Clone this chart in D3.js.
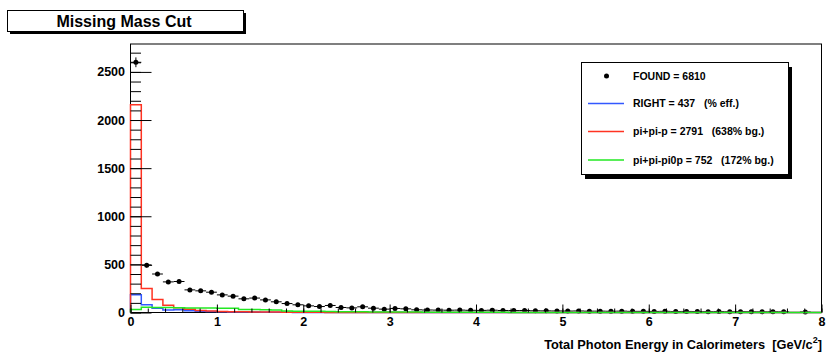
<!DOCTYPE html>
<html>
<head>
<meta charset="utf-8">
<script src="https://cdnjs.cloudflare.com/ajax/libs/d3/7.8.5/d3.min.js"></script>
<style>
body { margin: 0; background: #fff; }
svg text { font-family: "Liberation Sans", Arial, Helvetica, sans-serif; font-weight: bold; white-space: pre; }
.axis path.domain { display: none; }
</style>
</head>
<body>
<script>
var w = 826;
var h = 354;

//Plot frame edges
var plotLeft = 130.5, plotRight = 821.5, plotTop = 44, plotBottom = 312.5;

//64 bins of 0.125 GeV from 0 to 8
var binWidth = 0.125;

//FOUND (points with errors)
var found = [2600, 490, 400, 318, 322, 235, 225, 211, 183, 170, 142, 150, 131, 111, 93, 80,
    69, 62, 73, 52, 48, 59, 45, 35, 42, 38, 28, 26, 25, 24, 25, 23,
    22, 24, 21, 20, 21, 18, 17, 16, 15, 16, 14, 14, 13, 14, 12, 12,
    11, 12, 10, 11, 10, 9, 10, 8, 9, 8, 7, 8, 7, 0, 6, 0];

//RIGHT (blue)
var rightHist = [185, 80, 45, 25, 28, 18, 12, 10, 8, 6, 5, 4, 3, 2, 2, 1,
    1, 1, 1, 0, 0, 0, 0, 0, 0, 0, 0, 0, 0, 0, 0, 0,
    0, 0, 0, 0, 0, 0, 0, 0, 0, 0, 0, 0, 0, 0, 0, 0,
    0, 0, 0, 0, 0, 0, 0, 0, 0, 0, 0, 0, 0, 0, 0, 0];

//pi+pi-p (red)
var pipip = [2160, 250, 135, 75, 50, 35, 22, 15, 10, 8, 7, 5, 4, 4, 3, 3,
    2, 2, 1, 0, 0, 0, 0, 0, 0, 0, 0, 0, 0, 0, 0, 0,
    0, 0, 0, 0, 0, 0, 0, 0, 0, 0, 0, 0, 0, 0, 0, 0,
    0, 0, 0, 0, 0, 0, 0, 0, 0, 0, 0, 0, 0, 0, 0, 0];

//pi+pi-pi0p (green)
var pipipi0p = [32, 55, 53, 52, 50, 48, 48, 46, 45, 44, 32, 30, 28, 26, 16, 14,
    13, 12, 10, 9, 8, 7, 6, 5, 5, 4, 4, 3, 3, 3, 2, 2,
    2, 2, 2, 1, 1, 1, 1, 1, 1, 1, 1, 1, 1, 1, 1, 1,
    1, 1, 1, 1, 1, 0, 0, 0, 0, 0, 0, 0, 0, 0, 0, 0];

var xTicks = [0, 1, 2, 3, 4, 5, 6, 7, 8];
var yTicks = [0, 500, 1000, 1500, 2000, 2500];

var legendLabels = ["FOUND = 6810", "RIGHT = 437   (% eff.)",
    "pi+pi-p = 2791   (638% bg.)", "pi+pi-pi0p = 752   (172% bg.)"];

var blue = "#3358ff", red = "#ff3322", green = "#22e822";

var xScale = d3.scaleLinear().domain([0, 8]).range([plotLeft, plotRight]);
var yScale = d3.scaleLinear().domain([0, 2790]).range([plotBottom, plotTop]);

var svg = d3.select("body")
    .append("svg")
    .attr("width", w)
    .attr("height", h);

//Title box with shadow
svg.append("rect").attr("x", 10).attr("y", 13).attr("width", 236).attr("height", 21).attr("fill", "#000");
svg.append("rect").attr("x", 7.5).attr("y", 10.5).attr("width", 236).attr("height", 21)
    .attr("fill", "#fff").attr("stroke", "#000").attr("stroke-width", 1);
svg.append("text").attr("x", 124).attr("y", 26.5)
    .attr("text-anchor", "middle").attr("font-size", "16px")
    .text("Missing Mass Cut");

//Frame
svg.append("rect")
    .attr("x", plotLeft).attr("y", plotTop)
    .attr("width", plotRight - plotLeft).attr("height", plotBottom - plotTop)
    .attr("fill", "none").attr("stroke", "#000").attr("stroke-width", 1);

//Step path for a histogram
function stepPoints(vals) {
    var pts = [[0, 0]];
    vals.forEach(function (v, i) {
        pts.push([i * binWidth, v]);
    });
    pts.push([8, 0]);
    return pts;
}

var step = d3.line()
    .x(function (d) { return xScale(d[0]); })
    .y(function (d) { return yScale(d[1]); })
    .curve(d3.curveStepAfter);

//FOUND error bars and markers
var pts = found.map(function (v, i) { return { i: i, v: v }; })
    .filter(function (d) { return d.v > 0; });

var eg = svg.append("g").attr("stroke", "#000").attr("stroke-width", 1);
eg.selectAll("line.ex")
    .data(pts)
    .enter()
    .append("line")
    .attr("class", "ex")
    .attr("x1", function (d) { return xScale(d.i * binWidth); })
    .attr("x2", function (d) { return xScale((d.i + 1) * binWidth); })
    .attr("y1", function (d) { return yScale(d.v); })
    .attr("y2", function (d) { return yScale(d.v); });
eg.selectAll("line.ey")
    .data(pts)
    .enter()
    .append("line")
    .attr("class", "ey")
    .attr("x1", function (d) { return xScale((d.i + 0.5) * binWidth); })
    .attr("x2", function (d) { return xScale((d.i + 0.5) * binWidth); })
    .attr("y1", function (d) { return yScale(d.v - Math.sqrt(d.v)); })
    .attr("y2", function (d) { return yScale(d.v + Math.sqrt(d.v)); });

svg.selectAll("circle.found")
    .data(pts)
    .enter()
    .append("circle")
    .attr("class", "found")
    .attr("cx", function (d) { return xScale((d.i + 0.5) * binWidth); })
    .attr("cy", function (d) { return yScale(d.v); })
    .attr("r", 2.5)
    .attr("fill", "#000");

//Histograms
[[rightHist, blue], [pipip, red], [pipipi0p, green]].forEach(function (hd) {
    svg.append("path")
        .attr("d", step(stepPoints(hd[0])))
        .attr("fill", "none")
        .attr("stroke", hd[1])
        .attr("stroke-width", 1.5);
});

//X axis: major and minor ticks pointing up
svg.append("g")
    .attr("class", "axis")
    .attr("transform", "translate(0," + plotBottom + ")")
    .call(d3.axisBottom(xScale).tickValues(d3.range(0, 8.001, 0.2)).tickSize(-4).tickFormat(""));
var xaxis = svg.append("g")
    .attr("class", "axis")
    .attr("transform", "translate(0," + plotBottom + ")")
    .call(d3.axisBottom(xScale).tickValues(xTicks).tickSize(-8).tickPadding(5).tickFormat(d3.format("d")));
xaxis.selectAll("text").attr("font-size", "12.5px").attr("fill", "#000");

//Y axis: major and minor ticks pointing right
svg.append("g")
    .attr("class", "axis")
    .attr("transform", "translate(" + plotLeft + ",0)")
    .call(d3.axisLeft(yScale).tickValues(d3.range(0, 2701, 100)).tickSize(-10.5).tickFormat(""));
var yaxis = svg.append("g")
    .attr("class", "axis")
    .attr("transform", "translate(" + plotLeft + ",0)")
    .call(d3.axisLeft(yScale).tickValues(yTicks).tickSize(-21).tickPadding(5.5).tickFormat(d3.format("d")));
yaxis.selectAll("text").attr("font-size", "12.5px").attr("fill", "#000");

svg.selectAll(".axis line").attr("stroke", "#000");

//X title
var xt = svg.append("text")
    .attr("x", 822).attr("y", 348.5)
    .attr("text-anchor", "end").attr("font-size", "12.8px");
xt.append("tspan").text("Total Photon Energy in Calorimeters  [GeV/c");
xt.append("tspan").attr("font-size", "9px").attr("dy", -6).text("2");
xt.append("tspan").attr("dy", 6).text("]");

//Legend with shadow
var lx = 581, ly = 62, lw = 207, lh = 112;
svg.append("rect").attr("x", lx + 4).attr("y", ly + 5).attr("width", lw).attr("height", lh).attr("fill", "#000");
svg.append("rect").attr("x", lx + 0.5).attr("y", ly + 0.5).attr("width", lw).attr("height", lh)
    .attr("fill", "#fff").attr("stroke", "#000").attr("stroke-width", 1);

var rowY = [76, 103.5, 131.5, 160];
var legColors = [null, blue, red, green];
var lg = svg.append("g");
lg.selectAll("text")
    .data(legendLabels)
    .enter()
    .append("text")
    .attr("x", 633)
    .attr("y", function (d, i) { return rowY[i] + 3.7; })
    .attr("font-size", "10.5px")
    .text(function (d) { return d; });
lg.append("circle").attr("cx", 606.5).attr("cy", rowY[0]).attr("r", 2.5).attr("fill", "#000");
[1, 2, 3].forEach(function (i) {
    lg.append("line")
        .attr("x1", 588).attr("x2", 624)
        .attr("y1", rowY[i]).attr("y2", rowY[i])
        .attr("stroke", legColors[i]).attr("stroke-width", 1.5);
});
</script>
</body>
</html>
